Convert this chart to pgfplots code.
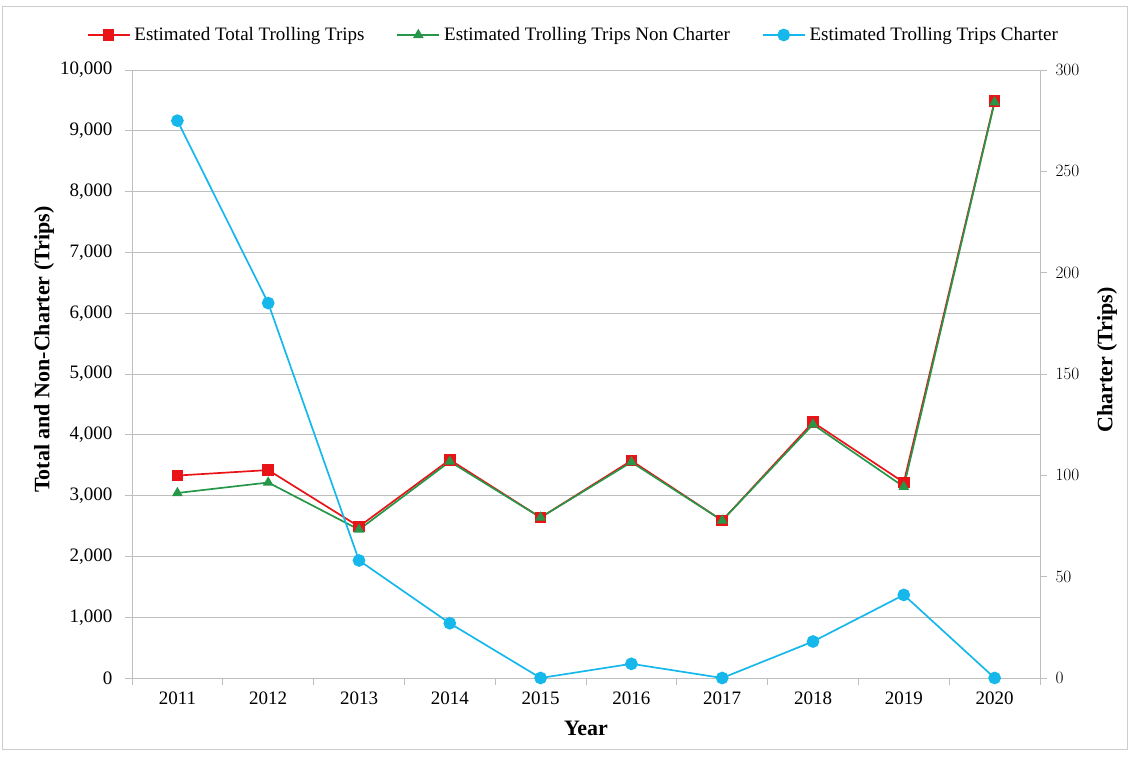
\documentclass[border=0pt]{standalone}
\usepackage{fontspec}
\setmainfont{Liberation Serif}
\usepackage{pgfplots}
\pgfplotsset{compat=1.18}
\definecolor{cred}{RGB}{232,20,24}
\definecolor{cgreen}{RGB}{38,150,72}
\definecolor{ccyan}{RGB}{22,184,236}
\definecolor{gridc}{RGB}{190,190,190}
\definecolor{framec}{RGB}{205,205,205}
\newcommand{\tfont}{\fontsize{19}{22}\selectfont}
\newcommand{\lfont}{\fontsize{22}{26}\selectfont\bfseries}
\pgfplotsset{
  common/.style={
    width=908pt,height=608pt,scale only axis,
    xmin=-0.5,xmax=9.5,
    tick align=outside, major tick length=7pt,
    axis line style={gridc,line width=0.9pt},
    tick style={gridc,line width=0.9pt},
    tick label style={font=\tfont},
  },
}
\begin{document}
\begin{tikzpicture}[x=1pt,y=1pt]
\path[use as bounding box] (-132,-79) rectangle (998,678);
\draw[framec,line width=1pt] (-129,-72) rectangle (995,671);
\begin{axis}[common,
  ymin=0,ymax=10000,
  axis y line*=left, axis x line*=bottom,
  xtick={-0.5,0.5,1.5,2.5,3.5,4.5,5.5,6.5,7.5,8.5,9.5},
  x tick label as interval,
  xticklabels={2011,2012,2013,2014,2015,2016,2017,2018,2019,2020},
  xticklabel style={yshift=-3pt},
  ytick={0,1000,...,10000},
  scaled y ticks=false,
  yticklabel={\pgfmathprintnumber[assume math mode=true,fixed,precision=0,1000 sep={,}]{\tick}},
  yticklabel style={xshift=-9pt},
  ymajorgrids, grid style={gridc,line width=0.9pt},
  xlabel={Year},
  ylabel={Total and Non-Charter (Trips)},
  every axis x label/.style={at={(rel axis cs:0.5,0)},anchor=center,yshift=-50pt,font=\lfont},
  every axis y label/.style={at={(rel axis cs:0,0.54)},xshift=-88pt,rotate=90,anchor=center,font=\lfont},
  legend columns=3,
  legend style={at={(0.486,1.0576)},anchor=center,draw=none,fill=none,font=\tfont,
    /tikz/every odd column/.append style={column sep=2pt},
    /tikz/every even column/.append style={column sep=30pt}},
  legend image code/.code={\draw[mark repeat=2,mark phase=2] plot coordinates {(0pt,0pt)(21pt,0pt)(42pt,0pt)};},
]
\addplot[cred,line width=1.7pt,mark=square*,mark size=5pt,mark options={solid,fill=cred}]
  coordinates {(0,3330)(1,3420)(2,2490)(3,3590)(4,2640)(5,3575)(6,2590)(7,4205)(8,3217)(9,9490)};
\addlegendentry{Estimated Total Trolling Trips}
\addplot[cgreen,line width=1.7pt,mark=triangle*,mark size=4.5pt,mark options={solid,fill=cgreen}]
  coordinates {(0,3043)(1,3215)(2,2440)(3,3560)(4,2640)(5,3550)(6,2590)(7,4170)(8,3145)(9,9470)};
\addlegendentry{Estimated Trolling Trips Non Charter}
\addlegendimage{ccyan,line width=1.7pt,mark=*,mark size=5.5pt,mark options={solid,fill=ccyan}}
\addlegendentry{Estimated Trolling Trips Charter}
\end{axis}
\begin{axis}[common,
  ymin=0,ymax=300,
  axis y line*=right, axis x line=none,
  ytick={0,50,...,300},
  yticklabel style={xshift=5pt},
  ylabel={Charter (Trips)},
  every axis y label/.style={at={(rel axis cs:1,0.523)},xshift=67pt,rotate=90,anchor=center,font=\lfont},
]
\addplot[ccyan,line width=1.7pt,mark=*,mark size=5.5pt,mark options={solid,fill=ccyan}]
  coordinates {(0,275)(1,185)(2,58)(3,27)(4,0)(5,7)(6,0)(7,18)(8,41)(9,0)};
\end{axis}
\end{tikzpicture}
\end{document}
